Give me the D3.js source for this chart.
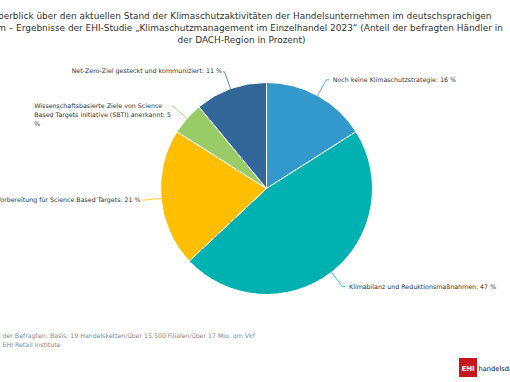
<!DOCTYPE html>
<html>
<head>
<meta charset="utf-8">
<script src="https://cdn.jsdelivr.net/npm/d3@7"></script>
<style>
  html, body { margin: 0; padding: 0; background: #fff; }
  svg { display: block; }
  text { font-family: "DejaVu Sans", Verdana, sans-serif; }
</style>
</head>
<body>
<svg id="chart" width="510" height="382"></svg>
<script>
// ---- data ----
const categories = [
  "Noch keine Klimaschutzstrategie",
  "Klimabilanz und Reduktionsmaßnahmen",
  "Vorbereitung für Science Based Targets",
  "Wissenschaftsbasierte Ziele von Science Based Targets initiative (SBTI) anerkannt",
  "Net-Zero-Ziel gesteckt und kommuniziert"
];
const values = [16, 47, 21, 5, 11];
const colors = ["#3399cc", "#00b1b1", "#ffbf00", "#99cc66", "#336699"];
// wrapped label lines (as in the reference)
const labelLines = [
  ["Noch keine Klimaschutzstrategie: 16 %"],
  ["Klimabilanz und Reduktionsmaßnahmen: 47 %"],
  ["Vorbereitung für Science Based Targets: 21 %"],
  ["Wissenschaftsbasierte Ziele von Science", "Based Targets initiative (SBTI) anerkannt: 5", "%"],
  ["Net-Zero-Ziel gesteckt und kommuniziert: 11 %"]
];
const titleLines = [
  "Überblick über den aktuellen Stand der Klimaschutzaktivitäten der Handelsunternehmen im deutschsprachigen",
  "Raum – Ergebnisse der EHI-Studie „Klimaschutzmanagement im Einzelhandel 2023“ (Anteil der befragten Händler in",
  "der DACH-Region in Prozent)"
];
const footerLines = [
  "Anzahl der Befragten: Basis: 19 Handelsketten/über 15.500 Filialen/über 17 Mio. qm Vkf",
  "Quelle: EHI Retail Institute"
];

// ---- layout ----
const svg = d3.select("#chart");
const cx = 266.5, cy = 188.5, R = 106;
const elbowR = R + 18;

// title
const title = svg.append("g");
titleLines.forEach((t, i) => {
  title.append("text")
    .attr("x", 241.5).attr("y", 19 + i * 11.8)
    .attr("text-anchor", "middle")
    .attr("font-size", 8.95)
    .attr("fill", "#333")
    .text(t);
});

// pie
const pie = d3.pie().sort(null).value(d => d)
  .startAngle(0).endAngle(2 * Math.PI);
const arcs = pie(values);
const arc = d3.arc().innerRadius(0).outerRadius(R);

const g = svg.append("g").attr("transform", `translate(${cx},${cy})`);
g.selectAll("path.slice").data(arcs).enter().append("path")
  .attr("class", "slice")
  .attr("d", arc)
  .attr("fill", (d, i) => colors[i])
  .attr("stroke", "#fff")
  .attr("stroke-width", 1);

// labels
const pt = (a, r) => [Math.sin(a) * r, -Math.cos(a) * r];
const lblFont = 6.3;
arcs.forEach((d, i) => {
  const mid = (d.startAngle + d.endAngle) / 2;
  const p0 = pt(mid, R);
  const p1 = pt(mid, elbowR);
  const right = p1[0] >= 0;
  const dir = right ? 1 : -1;
  const p2 = [p1[0] + dir * (right ? 3 : 1.5), p1[1]];
  g.append("polyline")
    .attr("points", [p0, p1, p2].map(p => p.join(",")).join(" "))
    .attr("fill", "none")
    .attr("stroke", colors[i])
    .attr("stroke-width", 0.8);

  const lines = labelLines[i];
  const tg = g.append("g");
  const texts = lines.map((l, k) => tg.append("text")
    .attr("y", p2[1] + k * 9 - (right ? 0 : 0.8))
    .attr("dy", "0.35em")
    .attr("font-size", lblFont)
    .attr("fill", "#333")
    .text(l));
  if (right) {
    texts.forEach(t => t.attr("x", p2[0] + 3.5).attr("text-anchor", "start"));
  } else {
    const maxW = d3.max(texts, t => t.node().getComputedTextLength());
    texts.forEach(t => t.attr("x", p2[0] - 1 - maxW).attr("text-anchor", "start"));
  }
});

// footer
const foot = svg.append("g");
const footFont = 6.25;
footerLines.forEach((t, i) => {
  const prefix = i === 0 ? "Anzahl " : "Quelle: ";
  const tmp = foot.append("text").attr("font-size", footFont).text(prefix);
  const w = tmp.node().getComputedTextLength();
  tmp.remove();
  foot.append("text")
    .attr("x", -w + 0.5).attr("y", 335.7 + i * 9.4)
    .attr("dy", "0.35em")
    .attr("font-size", footFont)
    .attr("fill", "#888")
    .text(t);
});

// logo
const logo = svg.append("g").attr("transform", "translate(459,358)");
logo.append("rect").attr("width", 18).attr("height", 19).attr("fill", "#c4161c");
logo.append("text").attr("x", 9).attr("y", 12.5).attr("text-anchor", "middle")
  .attr("font-size", 7).attr("font-weight", "bold").attr("fill", "#fff")
  .attr("font-family", "'Liberation Sans', Arial, sans-serif").text("EHI");
logo.append("text").attr("x", 19.5).attr("y", 12.5)
  .attr("font-size", 6.7).attr("fill", "#111")
  .attr("font-family", "'Liberation Sans', Arial, sans-serif")
  .text("handelsdaten");
</script>
</body>
</html>
